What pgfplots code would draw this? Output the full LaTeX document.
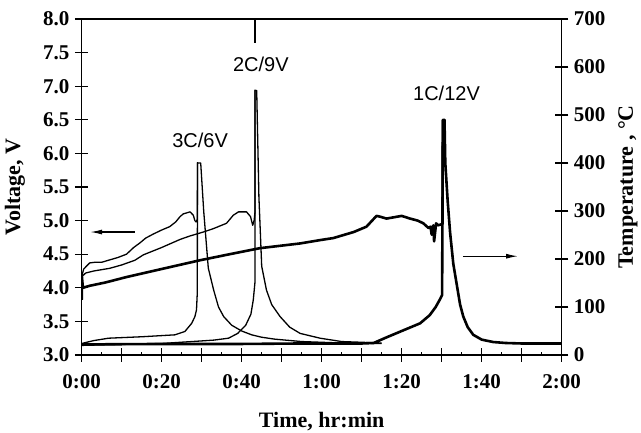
\documentclass[border=0pt]{standalone}
\usepackage{pgfplots}
\pgfplotsset{compat=1.18}
\usepackage{fontspec}
\setmainfont{Liberation Serif}
\newfontfamily\arialf{Liberation Sans}
\usetikzlibrary{arrows.meta}
\begin{document}
\begin{tikzpicture}
\useasboundingbox (-81.7pt,-77pt) rectangle (559.3pt,355pt);
\pgfplotsset{
  common/.style={width=480pt,height=336pt,scale only axis,xmin=0,xmax=120,
    tick label style={font=\fontsize{21}{24}\selectfont\bfseries},
    label style={font=\fontsize{22}{26}\selectfont\bfseries},
    /pgf/number format/assume math mode=true,
    axis line style={line width=1.4pt},
    tick style={line width=1.2pt,black},
    tick align=center, major tick length=13.4pt,
  },
  thin/.style={black,line width=1.3pt,line join=round},
  thick/.style={black,line width=2.6pt,line join=round},
}
\begin{axis}[common, ymin=3, ymax=8,
  xtick={0,10,...,120},
  xticklabels={0:00,,0:20,,0:40,,1:00,,1:20,,1:40,,2:00},
  xticklabel style={yshift=-9pt},
  yticklabel style={xshift=-2pt},
  minor x tick num=1, minor tick length=3.4pt, minor x tick style={yshift=1.7pt},
  ytick={3,3.5,...,8},
  yticklabels={3.0,3.5,4.0,4.5,5.0,5.5,6.0,6.5,7.0,7.5,8.0},
  xtick pos=left, ytick pos=left,
  xlabel={Time, hr:min}, ylabel={Voltage, V},
  xlabel style={at={(axis description cs:0.5,-0.198)},anchor=center},
  ylabel style={at={(axis description cs:-0.139,0.5)},anchor=center},
]
% 3C/6V voltage
\addplot[thin] coordinates {(0,4.0)(0.1,4.19)(0.5,4.28)(1,4.31)(2,4.37)(3.3,4.38)(5,4.38)(6.7,4.41)(9,4.45)(11.2,4.5)(13,4.6)(14.6,4.67)(16,4.74)(17.9,4.8)(20,4.86)(22,4.91)(23.5,4.98)(24.6,5.06)(25.4,5.1)(27.1,5.13)(27.9,5.08)(28.3,5.0)(28.6,4.98)(28.9,5.02)(28.95,5.87)};
% 2C/9V voltage
\addplot[thin] coordinates {(0,4.0)(0.1,4.17)(1,4.22)(3,4.25)(7,4.29)(10,4.34)(13.3,4.41)(15.4,4.49)(20,4.6)(24.6,4.72)(27,4.77)(30.4,4.83)(32.9,4.88)(36.2,4.96)(37.9,5.08)(39.2,5.13)(41.2,5.13)(42.2,5.06)(42.75,4.93)(43.1,5.0)(43.3,5.11)(43.35,6.95)};
\addplot[thin] coordinates {(43.35,7.65)(43.35,8.5)};
% 1C/12V voltage
\addplot[thick] coordinates {(0,3.82)(0.05,4.17)(0.3,4.0)(2,4.03)(6,4.08)(11.2,4.16)(20,4.28)(29.6,4.41)(37,4.5)(44.6,4.59)(54.6,4.66)(59.6,4.71)(62.9,4.74)(68,4.83)(71.2,4.91)(73.7,5.07)(74.5,5.06)(76.2,5.03)(80,5.07)(82.1,5.03)(84,5.0)(85.4,4.96)(86.7,4.89)(87.2,4.91)(87.5,4.79)(87.9,4.93)(88.1,4.69)(88.6,4.96)(89.1,4.93)(90.2,4.95)(90.3,6.5)};
\draw[line width=1.3pt,-{Latex[length=12pt,width=5pt]}] (axis cs:13.3,4.83) -- (axis cs:2.1,4.83);
\draw[line width=1.3pt,-{Latex[length=12pt,width=5pt]}] (axis cs:95.3,4.47) -- (axis cs:109.1,4.47);
\node[font=\arialf\fontsize{20}{24}\selectfont] at (axis cs:29.6,6.2) {3C/6V};
\node[font=\arialf\fontsize{20}{24}\selectfont] at (axis cs:44.8,7.32) {2C/9V};
\node[font=\arialf\fontsize{20}{24}\selectfont] at (axis cs:91.2,6.9) {1C/12V};
\end{axis}
\begin{axis}[common, ymin=0, ymax=700,
  axis y line*=right, axis x line=none,
  ytick={0,100,...,700},
  yticklabel style={xshift=2pt},
  ylabel={Temperature , °C},
  ylabel style={at={(axis description cs:1.138,0.5)},anchor=center,rotate=0},
]
% 3C temperature
\addplot[thin] coordinates {(0,24)(3,30)(6.7,35)(15,38)(23.3,42)(25.8,49)(27.5,66)(28.3,80)(28.7,94)(28.9,130)(28.95,400)(29.75,400)(30.5,300)(31.65,181)(33,135)(34.2,100)(35.5,80)(37.5,62)(40,50)(42.5,42)(45,37)(48.3,33)(55,28)(65,25)(75,24)};
% 2C temperature
\addplot[thin] coordinates {(0,20)(10,22)(20,24)(27.5,28)(33,31)(36.7,35)(39,45)(41,62)(42.3,85)(42.9,115)(43.3,150)(43.35,551)(43.75,551)(44.3,330)(45,185)(46.2,135)(47.5,105)(49.6,80)(52,58)(54.6,45)(59.6,35)(65,28)(75,25)};
% 1C temperature
\addplot[thick] coordinates {(0,22)(20,23)(40,23)(55,24)(70,24)(73,25)(76,36)(80,50)(84.6,66)(87,83)(88.5,100)(89.5,115)(90.1,125)(90.3,490)(90.7,490)(90.9,400)(91.5,320)(92.1,255)(92.9,190)(93.7,150)(94.6,105)(95.4,80)(96.5,58)(97.9,42)(100,32)(102.9,27)(106,25)(110,24)(120,24)};
\end{axis}
\end{tikzpicture}
\end{document}
